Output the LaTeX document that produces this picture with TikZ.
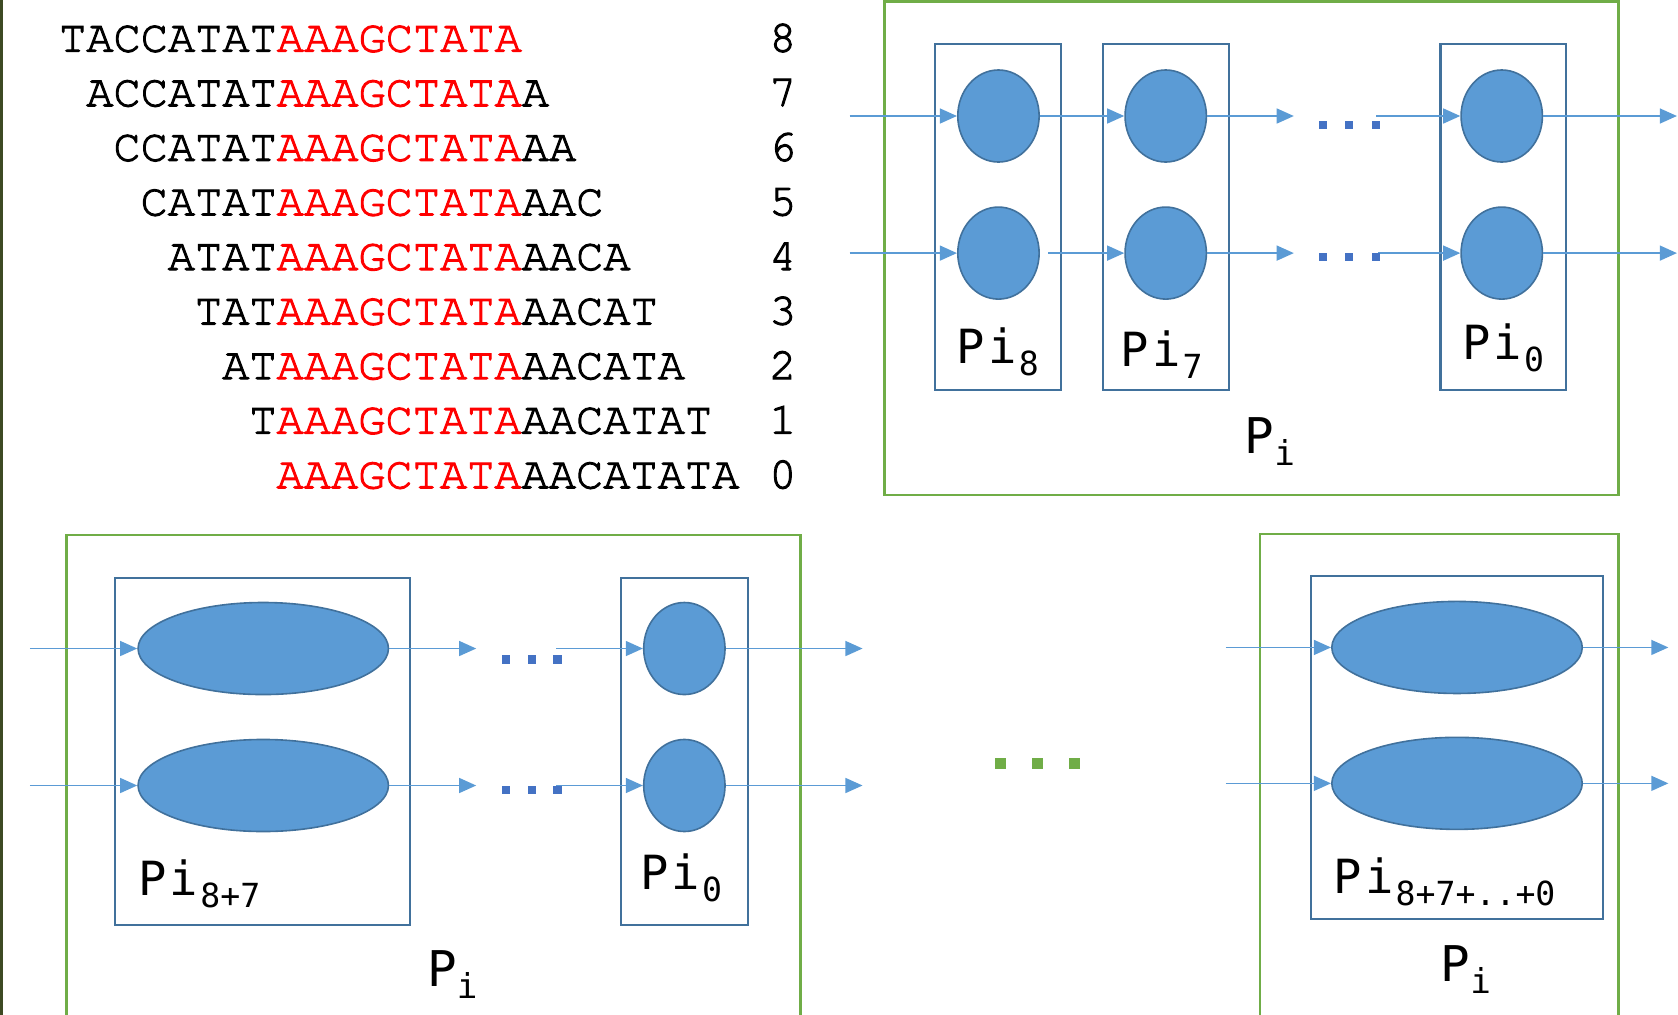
\documentclass[tikz,border=0pt]{standalone}
\usepackage{fontspec}
\newfontfamily\seqfont[FakeBold=2.2]{texgyrecursor-regular.otf}
\newfontfamily\labfont{DejaVu Sans Mono}
\usetikzlibrary{shapes.geometric,arrows.meta}

\definecolor{cellfill}{HTML}{5B9BD5}
\definecolor{celledge}{HTML}{41719C}
\definecolor{groupgreen}{HTML}{70AD47}
\definecolor{dotblue}{HTML}{4472C4}
\definecolor{seqred}{HTML}{FF0000}
\definecolor{edgeolive}{HTML}{3D4A23}

% processor label: "Pi" with a lowered index
\newcommand\procname[1]{P\hspace{3pt}i\hspace{2pt}\raisebox{-11pt}{\fontsize{31}{31}\selectfont #1}}
% group label: "P" with a lowered i
\newcommand\groupname{P\raisebox{-11pt}{\fontsize{32}{32}\selectfont i}}

\tikzset{
  cell/.style={ellipse, draw=celledge, fill=cellfill, line width=1.5pt,
    inner sep=0pt, minimum width=76pt, minimum height=86pt},
  widecell/.style={cell, minimum width=234pt},
  stagebox/.style={rectangle, draw=celledge, line width=2pt, inner sep=0pt},
  groupbox/.style={draw=groupgreen, line width=2.5pt},
  flow/.style={draw=cellfill, line width=1.5pt, -{Triangle[length=16pt,width=14pt]}},
  seq/.style={anchor=base west, inner sep=0pt, font=\seqfont\fontsize{42.4}{50}\selectfont},
  num/.style={anchor=base, inner sep=0pt, font=\seqfont\fontsize{42.4}{50}\selectfont},
  plabel/.style={anchor=base west, inner sep=0pt, font=\labfont\fontsize{44}{44}\selectfont},
  glabel/.style={anchor=base west, inner sep=0pt, font=\labfont\fontsize{46}{46}\selectfont},
  bdot/.style={rectangle, fill=dotblue, inner sep=0pt, minimum width=7.5pt, minimum height=7.5pt},
  gdot/.style={rectangle, fill=groupgreen, inner sep=0pt, minimum size=11pt},
}

\begin{document}
\begin{tikzpicture}[x=1pt, y=-1pt]
\useasboundingbox (0,0) rectangle (1568,948);

% left border rule
\draw[edgeolive, line width=2.4pt] (1.2,0) -- (1.2,948);

% ---- shifted sequences with their offsets ----
\node[seq] (r8) at (55,48.3)  {TACCATAT\textcolor{seqred}{AAAGCTATA}};
\node[seq] (r7) at (80.4,99.3)  {ACCATAT\textcolor{seqred}{AAAGCTATA}A};
\node[seq] (r6) at (105.8,150.3) {CCATAT\textcolor{seqred}{AAAGCTATA}AA};
\node[seq] (r5) at (131.2,201.3) {CATAT\textcolor{seqred}{AAAGCTATA}AAC};
\node[seq] (r4) at (156.6,252.3) {ATAT\textcolor{seqred}{AAAGCTATA}AACA};
\node[seq] (r3) at (182,303.3)   {TAT\textcolor{seqred}{AAAGCTATA}AACAT};
\node[seq] (r2) at (207.4,354.3) {AT\textcolor{seqred}{AAAGCTATA}AACATA};
\node[seq] (r1) at (232.8,405.3) {T\textcolor{seqred}{AAAGCTATA}AACATAT};
\node[seq] (r0) at (258.2,456.3) {\textcolor{seqred}{AAAGCTATA}AACATATA};
\foreach \k/\y in {8/48.3,7/99.3,6/150.3,5/201.3,4/252.3,3/303.3,2/354.3,1/405.3,0/456.3}
  \node[num] (n\k) at (731.5,\y) {\k};

% ---- top group: one stage per offset ----
\draw[groupbox] (826.5,1.2) rectangle (1512.5,462.5);
\node[stagebox, minimum width=117.5pt, minimum height=323.5pt] (s8) at (932.8,202.6) {};
\node[stagebox, minimum width=117.5pt, minimum height=323.5pt] (s7) at (1089.8,202.6) {};
\node[stagebox, minimum width=117.5pt, minimum height=323.5pt] (s0) at (1404.8,202.6) {};

\node[cell] (c8a) at (933,108.4) {};
\node[cell] (c8b) at (933,236.5) {};
\node[cell] (c7a) at (1089.3,108.4) {};
\node[cell] (c7b) at (1089.3,236.5) {};
\node[cell] (c0a) at (1403.3,108.4) {};
\node[cell] (c0b) at (1403.3,236.5) {};

\node[plabel] (l8) at (894,340) {\procname{8}};
\node[plabel] (l7) at (1047,342.5) {\procname{7}};
\node[plabel] (l0) at (1366,336) {\procname{0}};
\node[glabel] (gtop) at (1163,424) {\groupname};

\coordinate (ta-in)  at (794,108.4);
\coordinate (ta-gap) at (1209,108.4);
\coordinate (ta-res) at (1286,108.4);
\coordinate (ta-out) at (1567,108.4);
\coordinate (tb-in)  at (794,236.5);
\coordinate (tb-gap) at (1209,236.5);
\coordinate (tb-res) at (1288,236.5);
\coordinate (tb-out) at (1567,236.5);

\draw[flow] (ta-in) -- (c8a);
\draw[flow] (c8a) -- (c7a);
\draw[flow] (c7a) -- (ta-gap);
\draw[flow] (ta-res) -- (c0a);
\draw[flow] (c0a) -- (ta-out);
\draw[flow] (tb-in) -- (c8b);
\draw[flow, shorten <=8pt] (c8b) -- (c7b);
\draw[flow] (c7b) -- (tb-gap);
\draw[flow] (tb-res) -- (c0b);
\draw[flow] (c0b) -- (tb-out);

\foreach \x [count=\i] in {1236,1261,1286} {
  \node[bdot] (ta-d\i) at (\x,116.6) {};
  \node[bdot] (tb-d\i) at (\x,240) {};
}

% ---- bottom-left group: merged stage 8+7 ----
\draw[groupbox] (62,500) rectangle (748,960);
\node[stagebox, minimum width=276pt, minimum height=324pt] (m87) at (245.5,702) {};
\node[stagebox, minimum width=119pt, minimum height=324pt] (m0) at (639.5,702) {};

\node[widecell] (w87a) at (246,606) {};
\node[widecell] (w87b) at (246,734) {};
\node[cell] (w0a) at (639.5,606) {};
\node[cell] (w0b) at (639.5,734) {};

\node[plabel] (lm87) at (129,837) {\procname{8+7}};
\node[plabel] (lm0) at (598,831) {\procname{0}};
\node[glabel] (gleft) at (399,922) {\groupname};

\coordinate (la-in)  at (28,606);
\coordinate (la-gap) at (445,606);
\coordinate (la-res) at (520,606);
\coordinate (la-out) at (806,606);
\coordinate (lb-in)  at (28,734);
\coordinate (lb-gap) at (445,734);
\coordinate (lb-res) at (520,734);
\coordinate (lb-out) at (806,734);

\draw[flow] (la-in) -- (w87a);
\draw[flow] (w87a) -- (la-gap);
\draw[flow] (la-res) -- (w0a);
\draw[flow] (w0a) -- (la-out);
\draw[flow] (lb-in) -- (w87b);
\draw[flow] (w87b) -- (lb-gap);
\draw[flow] (lb-res) -- (w0b);
\draw[flow] (w0b) -- (lb-out);

\foreach \x [count=\i] in {473,497,521} {
  \node[bdot, minimum size=8pt] (la-d\i) at (\x,616) {};
  \node[bdot, minimum size=8pt] (lb-d\i) at (\x,738) {};
}

% ---- ellipsis between groups ----
\foreach \x [count=\i] in {935,969.5,1004}
  \node[gdot] (g\i) at (\x,713.5) {};

% ---- bottom-right group: all stages merged ----
\draw[groupbox] (1177.5,499) rectangle (1512.5,960);
\node[stagebox, minimum width=273pt, minimum height=320pt] (mall) at (1361.5,698.5) {};
\node[widecell] (waa) at (1361.5,605) {};
\node[widecell] (wab) at (1361.5,732) {};

\node[plabel] (lall) at (1246,835) {\procname{8+7+..+0}};
\node[glabel] (gright) at (1346,917) {\groupname};

\coordinate (ra-in)  at (1145.5,605);
\coordinate (ra-out) at (1559,605);
\coordinate (rb-in)  at (1145.5,732);
\coordinate (rb-out) at (1559,732);
\draw[flow] (ra-in) -- (waa);
\draw[flow] (waa) -- (ra-out);
\draw[flow] (rb-in) -- (wab);
\draw[flow] (wab) -- (rb-out);
\end{tikzpicture}
\end{document}
